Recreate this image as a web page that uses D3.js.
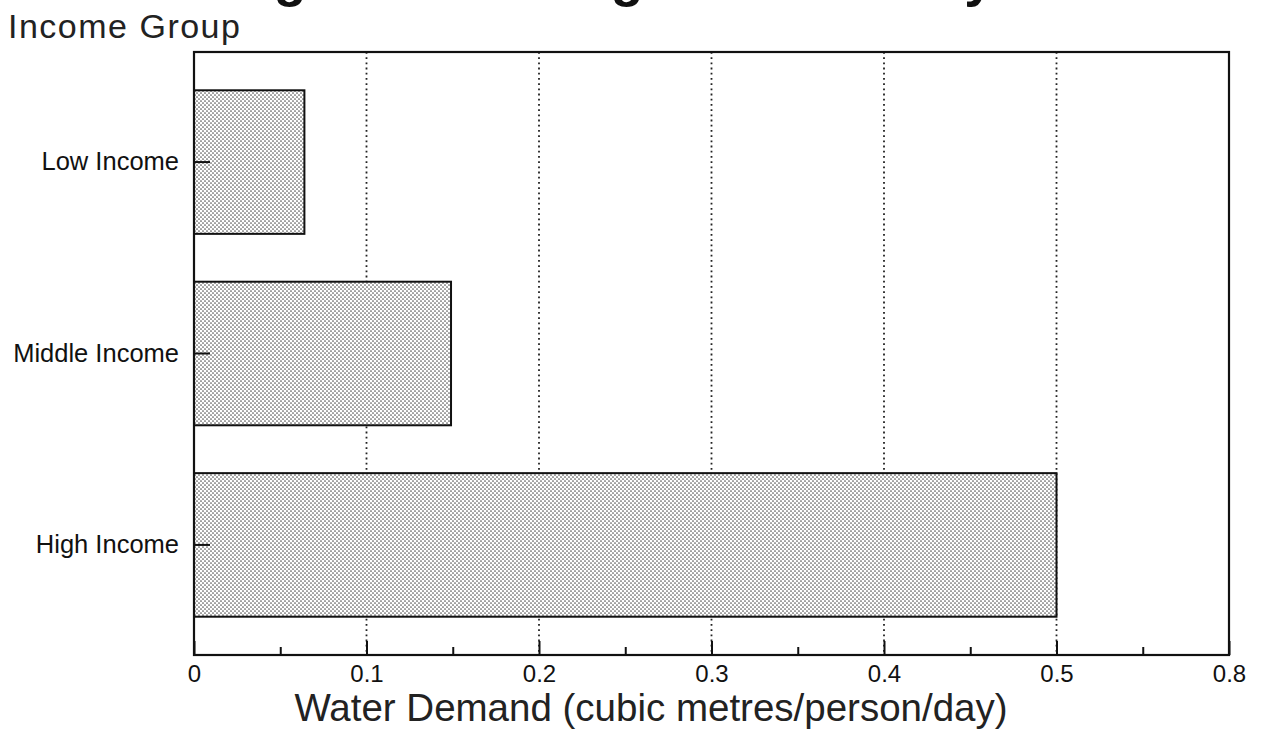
<!DOCTYPE html>
<html>
<head>
<meta charset="utf-8">
<script src="https://cdn.jsdelivr.net/npm/d3@7"></script>
<style>
  body { margin: 0; background: #fff; }
  svg { display: block; font-family: "Liberation Sans", Arial, sans-serif; }
</style>
</head>
<body>
<svg id="chart" width="1263" height="731"></svg>
<script>
'use strict';

// chart data
var groups = ['Low Income', 'Middle Income', 'High Income'];
var demand = [0.064, 0.149, 0.5];
var majorTicks = [0, 0.1, 0.2, 0.3, 0.4, 0.5, 0.6];
var tickLabels = ['0', '0.1', '0.2', '0.3', '0.4', '0.5', '0.8'];
var minorTicks = [0.05, 0.15, 0.25, 0.35, 0.45, 0.55];

var svg = d3.select('#chart');
var plotLeft = 194, plotRight = 1229, plotTop = 52, plotBottom = 655;

var x = d3.scaleLinear().domain([0, 0.6]).range([plotLeft, plotRight]);
var y = d3.scaleBand().domain(groups).range([plotTop, plotBottom])
  .paddingInner(0.25).paddingOuter(0.2);

// stipple fill for the bars
var pat = svg.append('defs').append('pattern')
  .attr('id', 'stipple')
  .attr('patternUnits', 'userSpaceOnUse')
  .attr('width', 4).attr('height', 4);
pat.append('rect').attr('width', 4).attr('height', 4).attr('fill', '#fff');
pat.append('circle').attr('cx', 1).attr('cy', 1).attr('r', 0.85).attr('fill', '#555');
pat.append('circle').attr('cx', 3).attr('cy', 3).attr('r', 0.85).attr('fill', '#555');

// title, mostly cut off at the top of the page
svg.append('text')
  .attr('x', 127).attr('y', -4)
  .attr('font-size', 53.5).attr('font-weight', 'bold')
  .attr('fill', '#111')
  .text('Average Water Usage in the Study Area');

// y axis title
svg.append('text')
  .attr('x', 8).attr('y', 38)
  .attr('font-size', 34).attr('fill', '#222')
  .attr('letter-spacing', 1.5)
  .text('Income Group');

// dotted grid lines
svg.append('g').selectAll('line')
  .data(majorTicks.slice(1, 6))
  .join('line')
  .attr('x1', function(d) { return x(d); })
  .attr('x2', function(d) { return x(d); })
  .attr('y1', plotTop).attr('y2', plotBottom)
  .attr('stroke', '#222')
  .attr('stroke-width', 1.8)
  .attr('stroke-dasharray', '1.8,3.4');

// bars
svg.append('g').selectAll('rect')
  .data(groups)
  .join('rect')
  .attr('x', x(0))
  .attr('y', function(d) { return y(d); })
  .attr('width', function(d, i) { return x(demand[i]) - x(0); })
  .attr('height', y.bandwidth())
  .attr('fill', 'url(#stipple)')
  .attr('stroke', '#111')
  .attr('stroke-width', 2);

// x axis: major ticks point inward
var xAxis = d3.axisBottom(x)
  .tickValues(majorTicks)
  .tickFormat(function(d, i) { return tickLabels[i]; })
  .tickSizeInner(-14).tickSizeOuter(0).tickPadding(10);
var gx = svg.append('g').attr('transform', 'translate(0,' + plotBottom + ')').call(xAxis);
gx.selectAll('text').attr('font-size', 24).attr('fill', '#111')
  .attr('font-family', '"Liberation Sans", Arial, sans-serif');

var xMinor = d3.axisBottom(x).tickValues(minorTicks)
  .tickFormat('').tickSizeInner(-8).tickSizeOuter(0);
svg.append('g').attr('transform', 'translate(0,' + plotBottom + ')').call(xMinor);

// y axis: category ticks point inward
var yAxis = d3.axisLeft(y).tickSizeInner(-16).tickSizeOuter(0).tickPadding(15);
var gy = svg.append('g').attr('transform', 'translate(' + plotLeft + ',0)').call(yAxis);
gy.selectAll('text').attr('font-size', 25.5).attr('fill', '#111')
  .attr('font-family', '"Liberation Sans", Arial, sans-serif');

svg.selectAll('.domain').remove();
svg.selectAll('.tick line').attr('stroke', '#111').attr('stroke-width', 2);

// plot frame
svg.append('rect')
  .attr('x', plotLeft).attr('y', plotTop)
  .attr('width', plotRight - plotLeft).attr('height', plotBottom - plotTop)
  .attr('fill', 'none').attr('stroke', '#111').attr('stroke-width', 2.2);

// x axis title
svg.append('text')
  .attr('x', 651).attr('y', 721)
  .attr('text-anchor', 'middle')
  .attr('font-size', 38.5).attr('fill', '#222')
  .text('Water Demand (cubic metres/person/day)');
</script>
</body>
</html>
